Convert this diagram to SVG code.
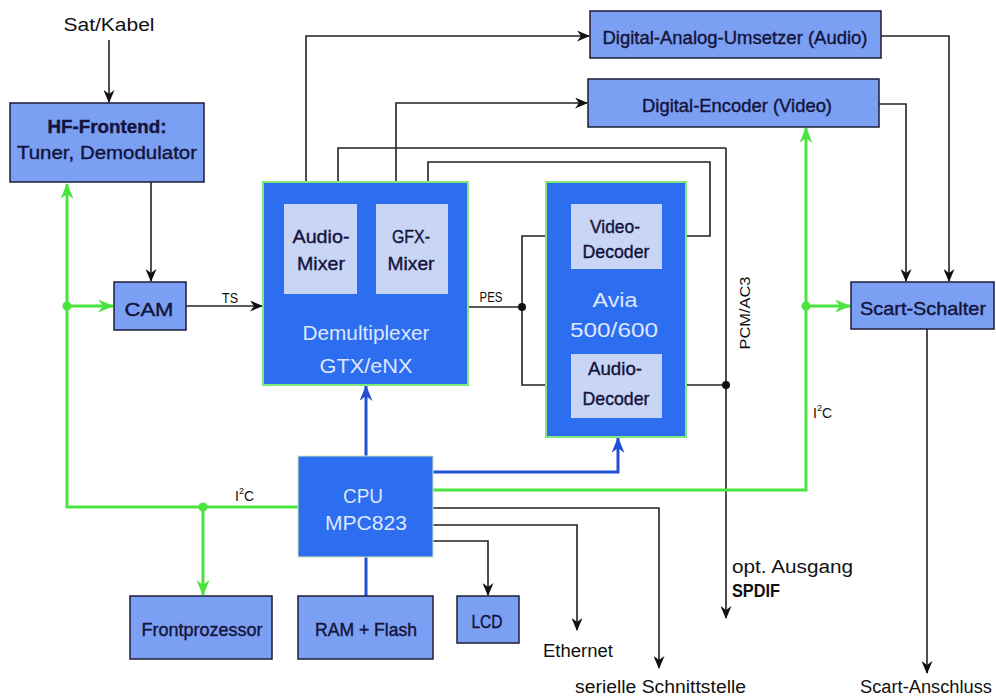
<svg xmlns="http://www.w3.org/2000/svg" width="996" height="699" viewBox="0 0 996 699">
<style>
text{font-family:"Liberation Sans",Arial,sans-serif;}
.box{fill:#7b9ff2;stroke:#1c1c3a;stroke-width:1.5;}
.big{fill:#2d6df0;stroke:#7fe87a;stroke-width:2;}
.sub{fill:#c9d5f5;stroke:none;}
.lbl{font-size:19px;fill:#14143c;text-anchor:middle;stroke:#14143c;stroke-width:0.4;}
.wl{font-size:20px;fill:#dde7ff;text-anchor:middle;}
.t{font-size:18px;fill:#111;}
.s{font-size:14px;fill:#111;}
.k{fill:none;stroke:#222;stroke-width:1.6;}
.g{fill:none;stroke:#4be33f;stroke-width:3;}
.b{fill:none;stroke:#2150d6;stroke-width:3;}
</style>
<defs>
<marker id="ak" markerUnits="userSpaceOnUse" viewBox="0 0 13 11" markerWidth="13" markerHeight="11" refX="12" refY="5.5" orient="auto"><path d="M0,0 L13,5.5 L0,11 L4,5.5 z" fill="#111"/></marker>
<marker id="ag" markerUnits="userSpaceOnUse" viewBox="0 0 16 13" markerWidth="16" markerHeight="13" refX="15" refY="6.5" orient="auto"><path d="M0,0 L16,6.5 L0,13 L5,6.5 z" fill="#4be33f"/></marker>
<marker id="ab" markerUnits="userSpaceOnUse" viewBox="0 0 16 13" markerWidth="16" markerHeight="13" refX="15" refY="6.5" orient="auto"><path d="M0,0 L16,6.5 L0,13 L5,6.5 z" fill="#2150d6"/></marker>
</defs>
<rect width="996" height="699" fill="#fff"/>

<g id="connectors">
<path class="k" d="M109,40 V102" marker-end="url(#ak)" stroke-width="2.4"/>
<path class="k" d="M151,182 V281" marker-end="url(#ak)"/>
<path class="k" d="M186,306 H262" marker-end="url(#ak)"/>
<path class="k" d="M306,204 V36 H589" marker-end="url(#ak)"/>
<path class="k" d="M396,204 V103 H587" marker-end="url(#ak)"/>
<path class="k" d="M726,148 V618" marker-end="url(#ak)"/>
<path class="k" d="M726,148 H338 V203" marker-end="url(#ak)"/>
<path class="k" d="M662,236 H710 V162 H428 V203" marker-end="url(#ak)"/>
<path class="k" d="M468,307 H522"/>
<path class="k" d="M522,307 V236 H570" marker-end="url(#ak)"/>
<path class="k" d="M522,307 V385 H570" marker-end="url(#ak)"/>
<path class="k" d="M662,385 H726"/>
<path class="k" d="M881,36 H949 V281" marker-end="url(#ak)"/>
<path class="k" d="M879,104 H906 V281" marker-end="url(#ak)"/>
<path class="k" d="M927,329 V673" marker-end="url(#ak)"/>
<path class="k" d="M433,508 H659 V668" marker-end="url(#ak)"/>
<path class="k" d="M433,525 H577 V630" marker-end="url(#ak)"/>
<path class="k" d="M433,541 H488 V595" marker-end="url(#ak)"/>
<circle cx="522" cy="307" r="4" fill="#111"/>
<circle cx="726" cy="385" r="4" fill="#111"/>
<path class="g" d="M298,507 H67 V184" marker-end="url(#ag)"/>
<path class="g" d="M67,306 H113" marker-end="url(#ag)"/>
<path class="g" d="M203,507 V595" marker-end="url(#ag)"/>
<path class="g" d="M433,490 H806 V128" marker-end="url(#ag)"/>
<path class="g" d="M806,306 H850" marker-end="url(#ag)"/>
<circle cx="67" cy="306" r="4.5" fill="#4be33f"/>
<circle cx="203" cy="507" r="4.5" fill="#4be33f"/>
<circle cx="806" cy="306" r="4.5" fill="#4be33f"/>
<path class="b" d="M366,456 V386" marker-end="url(#ab)"/>
<path class="b" d="M433,472 H618 V438" marker-end="url(#ab)"/>
<path class="b" d="M366,557 V596"/>
</g>

<text class="t" x="109" y="31" text-anchor="middle" textLength="91" lengthAdjust="spacingAndGlyphs">Sat/Kabel</text>
<text class="s" x="230" y="303" text-anchor="middle" textLength="16" lengthAdjust="spacingAndGlyphs">TS</text>
<text class="s" x="491" y="302" text-anchor="middle" textLength="23" lengthAdjust="spacingAndGlyphs">PES</text>
<text class="s" x="750" y="313" text-anchor="middle" transform="rotate(-90 750 313)" textLength="73" lengthAdjust="spacingAndGlyphs">PCM/AC3</text>
<text class="s" x="813" y="418">I<tspan font-size="9" dy="-7">2</tspan><tspan dy="7">C</tspan></text>
<text class="s" x="235" y="501">I<tspan font-size="9" dy="-7">2</tspan><tspan dy="7">C</tspan></text>
<text class="t" x="732" y="573" textLength="121" lengthAdjust="spacingAndGlyphs">opt. Ausgang</text>
<text class="t" x="732" y="597" font-weight="bold" textLength="48" lengthAdjust="spacingAndGlyphs">SPDIF</text>
<text class="t" x="543" y="657" textLength="70" lengthAdjust="spacingAndGlyphs">Ethernet</text>
<text class="t" x="575" y="693" font-size="17" textLength="171" lengthAdjust="spacingAndGlyphs">serielle Schnittstelle</text>
<text class="t" x="860" y="693" font-size="17" textLength="132" lengthAdjust="spacingAndGlyphs">Scart-Anschluss</text>

<g id="hf"><rect class="box" x="10" y="103" width="194" height="79"/>
<text class="lbl" x="107" y="133" font-weight="bold" textLength="119" lengthAdjust="spacingAndGlyphs">HF-Frontend:</text>
<text class="lbl" x="107" y="159" textLength="180" lengthAdjust="spacingAndGlyphs">Tuner, Demodulator</text></g>
<g id="cam"><rect class="box" x="114" y="282" width="72" height="48"/><text class="lbl" x="149" y="316" font-size="24" textLength="49" lengthAdjust="spacingAndGlyphs">CAM</text></g>
<g id="demux"><rect class="big" x="263" y="182" width="205" height="203"/>
<rect class="sub" x="284" y="204" width="73" height="90"/>
<rect class="sub" x="376" y="204" width="72" height="90"/>
<text class="lbl" x="321" y="243" textLength="57" lengthAdjust="spacingAndGlyphs">Audio-</text>
<text class="lbl" x="321" y="270" textLength="48" lengthAdjust="spacingAndGlyphs">Mixer</text>
<text class="lbl" x="411" y="243" textLength="38" lengthAdjust="spacingAndGlyphs">GFX-</text>
<text class="lbl" x="411" y="270" textLength="47" lengthAdjust="spacingAndGlyphs">Mixer</text>
<text class="wl" x="366" y="340" textLength="127" lengthAdjust="spacingAndGlyphs">Demultiplexer</text>
<text class="wl" x="366" y="373" textLength="93" lengthAdjust="spacingAndGlyphs">GTX/eNX</text></g>
<g id="avia"><rect class="big" x="546" y="182" width="140" height="255"/>
<rect class="sub" x="571" y="204" width="91" height="65"/>
<rect class="sub" x="571" y="354" width="91" height="64"/>
<text class="lbl" x="615" y="233" textLength="50" lengthAdjust="spacingAndGlyphs">Video-</text>
<text class="lbl" x="616" y="258" textLength="67" lengthAdjust="spacingAndGlyphs">Decoder</text>
<text class="lbl" x="615" y="375" textLength="54" lengthAdjust="spacingAndGlyphs">Audio-</text>
<text class="lbl" x="616" y="405" textLength="67" lengthAdjust="spacingAndGlyphs">Decoder</text>
<text class="wl" x="615" y="307" textLength="45" lengthAdjust="spacingAndGlyphs">Avia</text>
<text class="wl" x="614" y="337" textLength="88" lengthAdjust="spacingAndGlyphs">500/600</text></g>
<g id="dac"><rect class="box" x="590" y="11" width="291" height="47"/><text class="lbl" x="735" y="44" textLength="265" lengthAdjust="spacingAndGlyphs">Digital-Analog-Umsetzer (Audio)</text></g>
<g id="enc"><rect class="box" x="588" y="79" width="291" height="48"/><text class="lbl" x="737" y="112" textLength="190" lengthAdjust="spacingAndGlyphs">Digital-Encoder (Video)</text></g>
<g id="scart"><rect class="box" x="851" y="282" width="143" height="47"/><text class="lbl" x="923" y="315" textLength="126" lengthAdjust="spacingAndGlyphs">Scart-Schalter</text></g>
<g id="cpu"><rect x="298" y="456" width="135" height="101" fill="#2d6df0" stroke="#cfe8b0" stroke-width="1"/>
<text class="wl" x="363" y="503" textLength="40" lengthAdjust="spacingAndGlyphs">CPU</text>
<text class="wl" x="366" y="530" textLength="82" lengthAdjust="spacingAndGlyphs">MPC823</text></g>
<g id="front"><rect class="box" x="130" y="596" width="142" height="63"/><text class="lbl" x="202" y="636" textLength="121" lengthAdjust="spacingAndGlyphs">Frontprozessor</text></g>
<g id="ram"><rect class="box" x="298" y="596" width="135" height="63"/><text class="lbl" x="366" y="636" textLength="102" lengthAdjust="spacingAndGlyphs">RAM + Flash</text></g>
<g id="lcd"><rect class="box" x="457" y="596" width="62" height="47"/><text class="lbl" x="487" y="628" textLength="31" lengthAdjust="spacingAndGlyphs">LCD</text></g>
</svg>
